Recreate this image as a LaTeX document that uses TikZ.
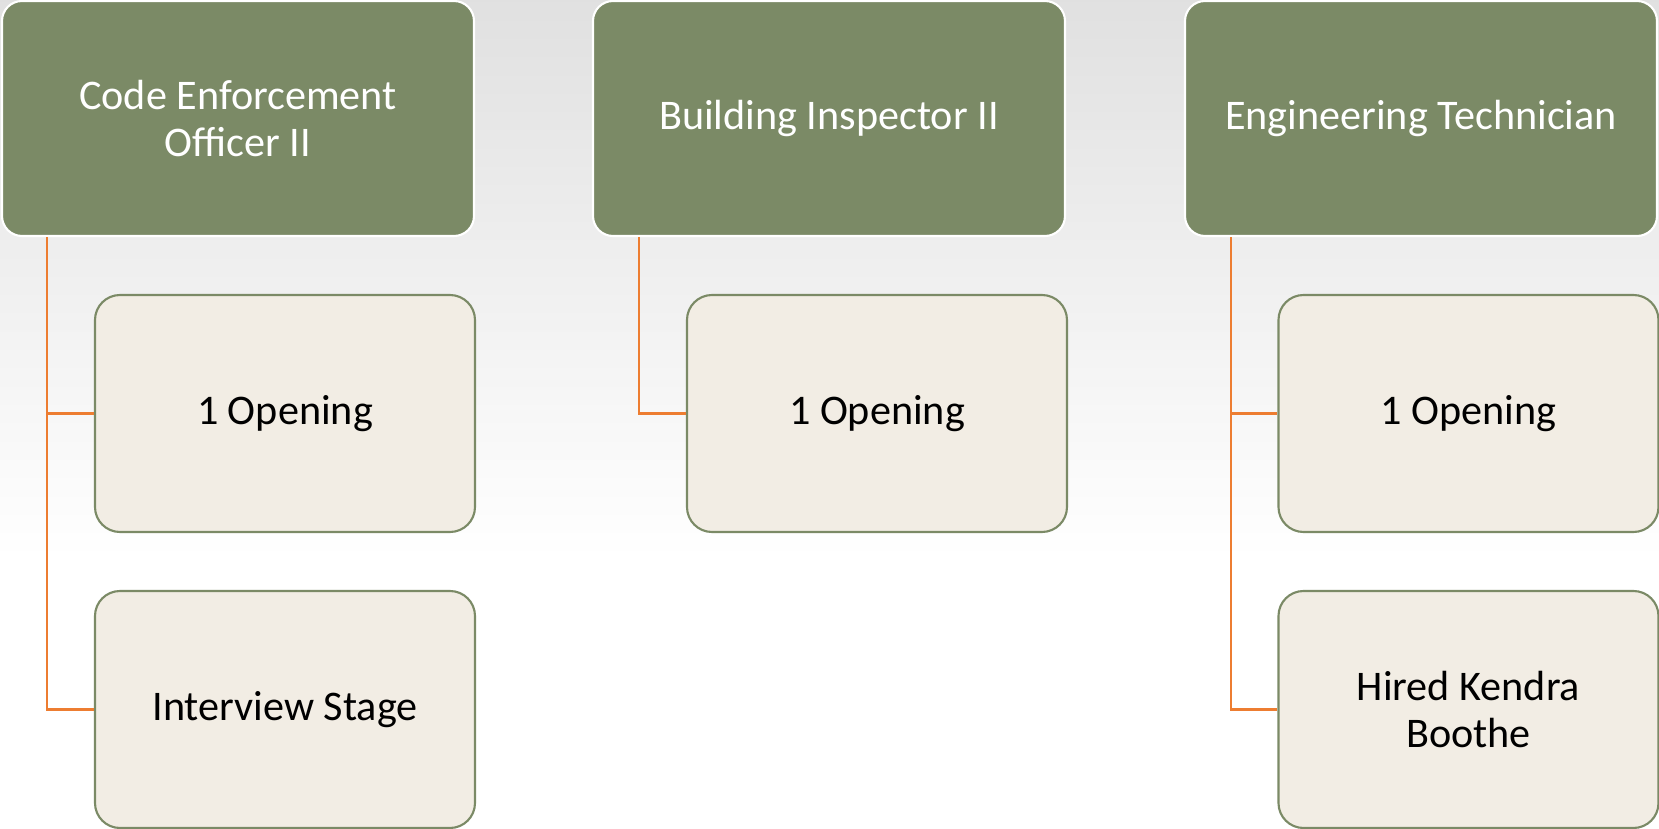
\documentclass[tikz,border=0pt]{standalone}
\usepackage{fontspec}
\setmainfont{Carlito}
\usetikzlibrary{positioning}
\definecolor{sage}{HTML}{7B8A66}
\definecolor{cream}{HTML}{F2EDE4}
\definecolor{linkorange}{HTML}{ED7D31}
\tikzset{
 post/.style={draw=white, line width=0.6pt, fill=sage, text=white, rounded corners=2mm,
   minimum width=47.2mm, minimum height=23.5mm, align=center, inner sep=0pt,
   font=\fontsize{12}{13.1}\selectfont},
 status/.style={draw=sage, line width=0.6pt, fill=cream, text=black, rounded corners=2.5mm,
   minimum width=38mm, minimum height=23.7mm, align=center, inner sep=0pt,
   font=\fontsize{12}{13.1}\selectfont},
 link/.style={draw=linkorange, line width=0.75pt}
}
\begin{document}
\begin{tikzpicture}[x=1mm, y=-1mm]
 % background
 \fill[white] (0,0) rectangle (165.9,82.9);
 \shade[top color=black!12, bottom color=white] (0,0) rectangle (165.9,56);
 \useasboundingbox (0,0) rectangle (165.9,82.9);

 \node[post] (ceo) at (23.8,11.85) {Code Enforcement\\Officer II};
 \node[post] (bi) at (82.9,11.85) {Building Inspector II};
 \node[post] (et) at (142.1,11.85) {Engineering Technician};

 \node[status] (ceo1) at (28.5,41.35) {1 Opening};
 \node[status] (ceo2) at (28.5,70.95) {Interview Stage};
 \node[status] (bi1) at (87.7,41.35) {1 Opening};
 \node[status] (et1) at (146.85,41.35) {1 Opening};
 \node[status] (et2) at (146.85,70.95) {Hired Kendra\\Boothe};

 \path[link] ([xshift=4.6mm]ceo.south west) |- (ceo1.west);
 \path[link] ([xshift=4.6mm]ceo.south west) |- (ceo2.west);
 \path[link] ([xshift=4.7mm]bi.south west) |- (bi1.west);
 \path[link] ([xshift=4.7mm]et.south west) |- (et1.west);
 \path[link] ([xshift=4.7mm]et.south west) |- (et2.west);
\end{tikzpicture}
\end{document}
